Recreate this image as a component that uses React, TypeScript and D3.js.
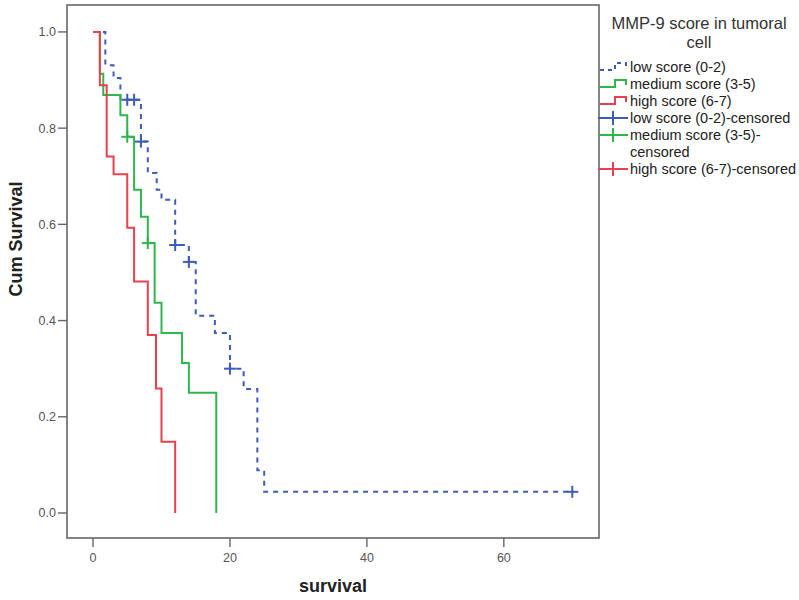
import React from "react";
import * as d3 from "d3";

// ---- data ----
const lowTimes = [0, 1.8, 3, 4, 7, 8, 9.3, 10, 12, 14, 15, 17.8, 20, 22, 24, 25, 70];
const lowSurv = [1, 0.931, 0.904, 0.859, 0.772, 0.707, 0.672, 0.651, 0.557, 0.522, 0.41, 0.374, 0.3, 0.258, 0.089, 0.044, 0.044];
const lowCensor = [5, 6, 7, 12, 14, 20, 70];

const medTimes = [0, 1, 1.5, 4, 5, 6, 7, 8, 9, 10, 13, 14, 18];
const medSurv = [1, 0.913, 0.869, 0.827, 0.782, 0.672, 0.616, 0.561, 0.437, 0.374, 0.312, 0.25, 0];
const medCensor = [5, 8];

const highTimes = [0, 1, 2, 3, 5, 6, 8, 9.2, 10, 12];
const highSurv = [1, 0.889, 0.741, 0.704, 0.593, 0.481, 0.37, 0.259, 0.148, 0];
const highCensor: number[] = [];

const xTicks = [0, 20, 40, 60];
const yTicks = [0, 0.2, 0.4, 0.6, 0.8, 1.0];

const legendTitle = ["MMP-9 score in tumoral", "cell"];
const legendItems = [
  { label: ["low score (0-2)"], kind: "line", color: "#3f5bb8", dash: true },
  { label: ["medium score (3-5)"], kind: "line", color: "#2fb64c", dash: false },
  { label: ["high score (6-7)"], kind: "line", color: "#e8404e", dash: false },
  { label: ["low score (0-2)-censored"], kind: "censor", color: "#3f5bb8", dash: false },
  { label: ["medium score (3-5)-", "censored"], kind: "censor", color: "#2fb64c", dash: false },
  { label: ["high score (6-7)-censored"], kind: "censor", color: "#e8404e", dash: false },
];

const FONT = "'Liberation Sans', Arial, sans-serif";

function stepValue(times: number[], surv: number[], t: number) {
  let v = surv[0];
  for (let i = 0; i < times.length; i++) if (times[i] <= t) v = surv[i];
  return v;
}

export default function App() {
  const W = 799, H = 600;
  const L = 67, R = 599, T = 5, B = 538;
  const x = d3.scaleLinear().domain([-3.8, 73.9]).range([L, R]);
  const y = d3.scaleLinear().domain([-0.052, 1.056]).range([B, T]);
  const line = d3
    .line<[number, number]>()
    .x((d) => x(d[0]))
    .y((d) => y(d[1]))
    .curve(d3.curveStepAfter);

  const series = [
    { times: lowTimes, surv: lowSurv, cens: lowCensor, color: "#3f5bb8", dash: "5,5" },
    { times: medTimes, surv: medSurv, cens: medCensor, color: "#2fb64c", dash: undefined },
    { times: highTimes, surv: highSurv, cens: highCensor, color: "#e8404e", dash: undefined },
  ];

  const axisColor = "#666";
  const legX = 600;
  const itemY = [67, 84, 101, 118, 135, 169];

  return (
    <svg width={W} height={H} style={{ position: "absolute", left: 0, top: 0, background: "#fff" }} fontFamily={FONT}>
      <rect x={0} y={0} width={W} height={H} fill="#fff" />
      {/* frame */}
      <rect x={L} y={T} width={R - L} height={B - T} fill="none" stroke={axisColor} strokeWidth={1.6} />
      {/* y ticks */}
      {yTicks.map((v) => (
        <g key={"y" + v}>
          <line x1={L - 9} x2={L} y1={y(v)} y2={y(v)} stroke={axisColor} strokeWidth={1.4} />
          <text x={L - 11} y={y(v)} dy="0.35em" textAnchor="end" fontSize={12.5} fill="#555">
            {d3.format(".1f")(v)}
          </text>
        </g>
      ))}
      {/* x ticks */}
      {xTicks.map((v) => (
        <g key={"x" + v}>
          <line x1={x(v)} x2={x(v)} y1={B} y2={B + 9} stroke={axisColor} strokeWidth={1.4} />
          <text x={x(v)} y={B + 24} textAnchor="middle" fontSize={12.5} fill="#555">
            {v}
          </text>
        </g>
      ))}
      {/* axis titles */}
      <text x={(L + R) / 2} y={592} textAnchor="middle" fontSize={18} fontWeight="bold" fill="#222">
        survival
      </text>
      <text transform={`translate(22,239) rotate(-90)`} textAnchor="middle" fontSize={18} fontWeight="bold" fill="#222">
        Cum Survival
      </text>
      {/* curves */}
      {series.map((s, i) => {
        const pts: [number, number][] = s.times.map((t, j) => [t, s.surv[j]]);
        return (
          <g key={"s" + i}>
            <path d={line(pts) || ""} fill="none" stroke={s.color} strokeWidth={2} strokeDasharray={s.dash} />
            {s.cens.map((c, k) => {
              const cx = x(c), cy = y(stepValue(s.times, s.surv, c));
              return (
                <g key={k} stroke={s.color} strokeWidth={2}>
                  <line x1={cx - 6} x2={cx + 6} y1={cy} y2={cy} />
                  <line x1={cx} x2={cx} y1={cy - 6} y2={cy + 6} />
                </g>
              );
            })}
          </g>
        );
      })}
      {/* legend */}
      {legendTitle.map((t, i) => (
        <text key={"lt" + i} x={699} y={23 + i * 19} dy="0.35em" textAnchor="middle" fontSize={16.5} fill="#333">
          {t}
        </text>
      ))}
      {legendItems.map((it, i) => {
        const c = itemY[i];
        return (
          <g key={"li" + i}>
            {it.kind === "line" ? (
              <path
                d={`M${legX},${c + 3}H${legX + 15}V${c - 4}H${legX + 26}V${c + 1}`}
                fill="none"
                stroke={it.color}
                strokeWidth={2}
                strokeDasharray={it.dash ? "4,4" : undefined}
              />
            ) : (
              <g stroke={it.color} strokeWidth={2}>
                <line x1={legX - 2} x2={legX + 28} y1={c} y2={c} />
                <line x1={legX + 13} x2={legX + 13} y1={c - 7} y2={c + 7} />
              </g>
            )}
            {it.label.map((l, k) => (
              <text key={k} x={legX + 30} y={c + k * 17} dy="0.35em" fontSize={14.5} fill="#222">
                {l}
              </text>
            ))}
          </g>
        );
      })}
    </svg>
  );
}
